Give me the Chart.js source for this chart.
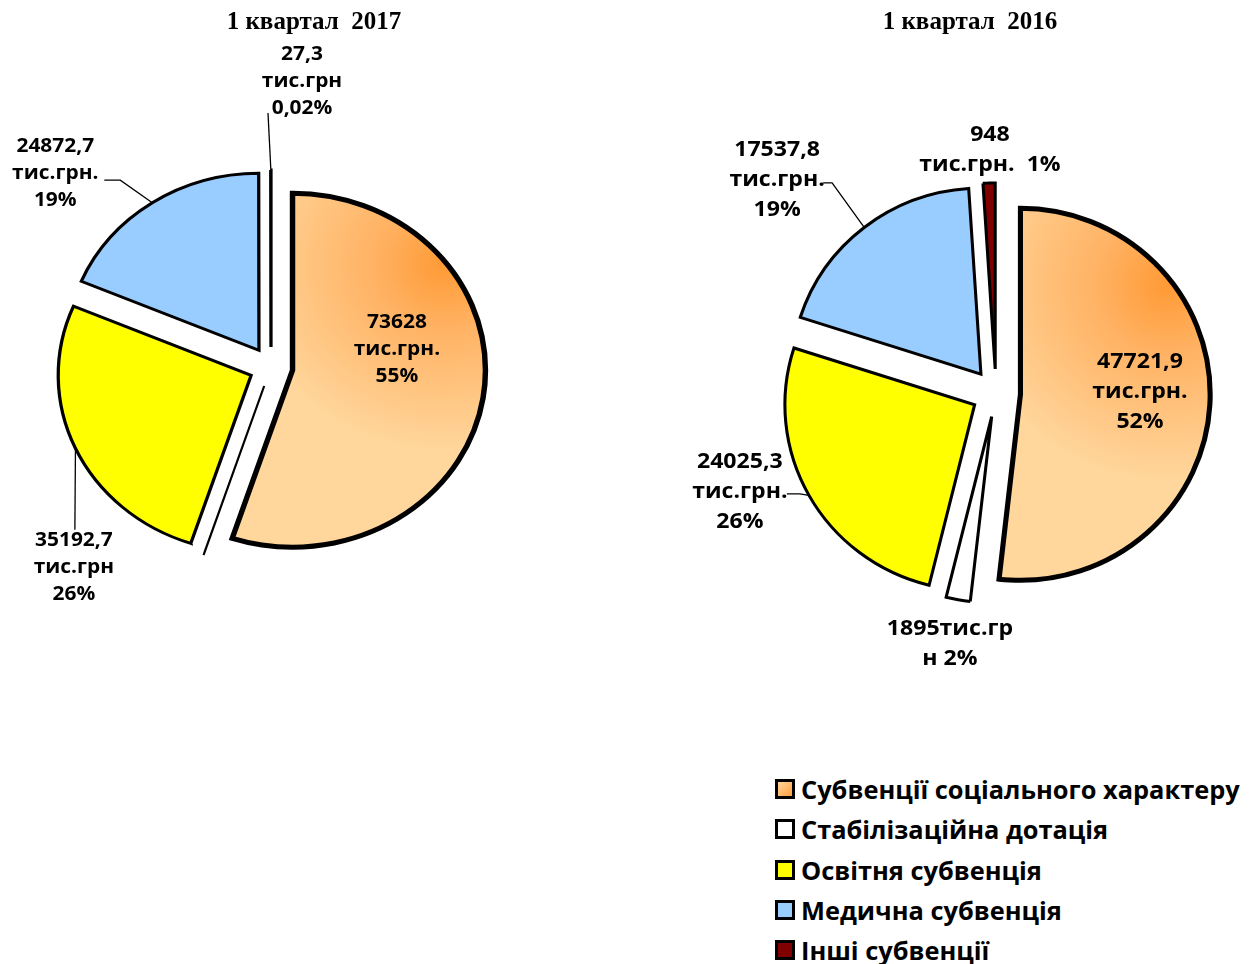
<!DOCTYPE html>
<html lang="uk">
<head>
<meta charset="utf-8">
<script src="https://cdn.jsdelivr.net/npm/chart.js@4.4.1/dist/chart.umd.min.js"></script>
<style>
  html, body { margin: 0; padding: 0; background: #fff; }
  #page { position: relative; width: 1256px; height: 964px; overflow: hidden; }
  #pie2017 { position: absolute; left: 0; top: 0; }
  #pie2016 { position: absolute; left: 684px; top: 0; }
  #legend { position: absolute; left: 775px; top: 769px; font-family: "Open Sans"; font-weight: bold; font-size: 25.4px; color: #000; }
  .item { display: flex; align-items: center; height: 40.3px; white-space: nowrap; }
  .box { width: 14px; height: 14px; border: 3px solid #000; margin-right: 6px; flex: none; }
</style>
</head>
<body>
<div id="page">
  <canvas id="pie2017" width="628" height="720"></canvas>
  <canvas id="pie2016" width="572" height="720"></canvas>
  <div id="legend"></div>
</div>
<script>
document.addEventListener("DOMContentLoaded", () => {
  // data
  const categories = [
    "Субвенції соціального характеру",
    "Стабілізаційна дотація",
    "Освітня субвенція",
    "Медична субвенція",
    "Інші субвенції",
  ];
  const values2017 = [73628, 1, 35192.7, 24872.7, 27.3]; // stabilization is ~0 in 2017, drawn as a line
  const values2016 = [47721.9, 1895, 24025.3, 17537.8, 948];
  const titles = ["1 квартал  2017", "1 квартал  2016"];
  // label text per slice: {v} value, {p} percent
  const labelText2017 = ["{v}\nтис.грн.\n{p}", "", "{v}\nтис.грн\n{p}", "{v}\nтис.грн.\n{p}", "{v}\nтис.грн\n{p}"];
  const labelText2016 = ["{v}\nтис.грн.\n{p}", "{v}тис.гр\nн {p}", "{v}\nтис.грн.\n{p}", "{v}\nтис.грн.\n{p}", "{v}\nтис.грн.  {p}"];
  const pctDigits2017 = [0, 0, 0, 0, 2];
  const pctDigits2016 = [0, 0, 0, 0, 0];

  const COLORS = ["#FFC483", "#FFFFFF", "#FFFF00", "#99CCFF", "#800000"];

  // explode every slice from the centre and stretch the pie into an ellipse like the original
  const explode = {
    id: "explode",
    beforeDatasetsDraw(chart, args, o) {
      const a = chart.chartArea;
      const cx = (a.left + a.right) / 2, cy = (a.top + a.bottom) / 2;
      chart.getDatasetMeta(0).data.forEach((arc) => {
        const mid = (arc.startAngle + arc.endAngle) / 2;
        arc.x = cx + Math.cos(mid) * o.distance;
        arc.y = cy + Math.sin(mid) * o.distance;
      });
      const ctx = chart.ctx;
      ctx.save();
      ctx.translate(cx, cy);
      ctx.scale(o.stretch, 1);
      ctx.translate(-cx, -cy);
    },
    afterDatasetsDraw(chart) {
      chart.ctx.restore();
    },
  };

  const fmt = (v) => String(v).replace(".", ",");

  // titles, value labels and leader lines
  const sliceLabels = {
    id: "sliceLabels",
    afterDraw(chart, args, o) {
      const ctx = chart.ctx, a = chart.chartArea;
      const cx = (a.left + a.right) / 2, cy = (a.top + a.bottom) / 2;
      const sx = chart.options.plugins.explode.stretch;
      const r = chart.options.radius;
      const data = chart.data.datasets[0].data;
      const total = data.reduce((s, v) => s + v, 0);
      ctx.save();
      ctx.fillStyle = "#000";
      ctx.textAlign = "center";
      ctx.textBaseline = "middle";
      ctx.font = 'bold 25px "Liberation Serif"';
      ctx.fillText(o.title, chart.width / 2, 23);

      ctx.strokeStyle = "#000";
      ctx.lineWidth = 1.3;
      ctx.font = "bold " + o.fontSize + 'px "Open Sans"';
      chart.getDatasetMeta(0).data.forEach((arc, i) => {
        const spec = o.place[i];
        if (!spec || !o.text[i]) return;
        const th = (spec[0] * Math.PI) / 180;
        const lx = cx + sx * spec[1] * r * Math.sin(th);
        const ly = cy - spec[1] * r * Math.cos(th);
        const pct = ((data[i] / total) * 100).toFixed(o.digits[i]).replace(".", ",") + "%";
        const lines = o.text[i].replace("{v}", fmt(data[i])).replace("{p}", pct).split("\n");
        if (spec[2]) {
          const mid = (arc.startAngle + arc.endAngle) / 2;
          const ex = cx + sx * (arc.x + Math.cos(mid) * r - cx);
          const ey = arc.y + Math.sin(mid) * r;
          ctx.beginPath();
          ctx.moveTo(ex, ey);
          spec[2].forEach((p) => ctx.lineTo(lx + p[0], ly + p[1]));
          ctx.stroke();
        }
        ctx.save();
        ctx.translate(lx, ly);
        ctx.scale(o.textStretch, 1);
        lines.forEach((t, j) => ctx.fillText(t, 0, (j - (lines.length - 1) / 2) * o.lineHeight));
        ctx.restore();
      });
      ctx.restore();
    },
  };

  function buildPie(id, values, cfg) {
    return new Chart(document.getElementById(id), {
      type: "pie",
      data: {
        labels: categories,
        datasets: [
          {
            data: values,
            backgroundColor: (c) => {
              if (c.dataIndex !== 0) return COLORS[c.dataIndex];
              const a = c.chart.chartArea;
              if (!a) return COLORS[0];
              const gx = (a.left + a.right) / 2 + 0.9 * cfg.radius;
              const gy = (a.top + a.bottom) / 2 - 0.58 * cfg.radius;
              const g = c.chart.ctx.createRadialGradient(gx, gy, 0, gx, gy, 1.05 * cfg.radius);
              g.addColorStop(0, "#FF9A35");
              g.addColorStop(0.35, "#FFB263");
              g.addColorStop(1, "#FFD69C");
              return g;
            },
            borderColor: "#000",
            borderWidth: cfg.borderWidths,
            borderJoinStyle: "miter",
            clip: false,
          },
        ],
      },
      options: {
        responsive: false,
        animation: false,
        events: [],
        radius: cfg.radius,
        layout: { padding: cfg.padding },
        plugins: {
          legend: { display: false },
          tooltip: { enabled: false },
          explode: { distance: cfg.distance, stretch: cfg.stretch },
          sliceLabels: cfg.labels,
        },
      },
      plugins: [explode, sliceLabels],
    });
  }

  buildPie("pie2017", values2017, {
    radius: 177,
    distance: 20,
    stretch: 1.09,
    padding: { left: 0, right: 86, top: 14, bottom: 0 },
    borderWidths: [5, 2, 3, 3, 3],
    labels: {
      title: titles[0],
      text: labelText2017,
      digits: pctDigits2017,
      fontSize: 19,
      textStretch: 1.1,
      lineHeight: 27,
      // [angle from top, radius factor, leader points relative to label centre]
      place: [
        [81.6, 0.66],
        null,
        [222, 1.527, [[1, -38]]],
        [314.4, 1.565, [[65, 7], [49, 7]]],
        [5.7, 1.618, [[-34, 31]]],
      ],
    },
  });

  buildPie("pie2016", values2016, {
    radius: 186,
    distance: 24,
    stretch: 1.02,
    padding: { left: 52, right: 0, top: 66, bottom: 0 },
    borderWidths: [5, 3, 3, 3, 3],
    labels: {
      title: titles[1],
      text: labelText2016,
      digits: pctDigits2016,
      fontSize: 21,
      textStretch: 1.1,
      lineHeight: 30,
      place: [
        [89.6, 0.759],
        [190.2, 1.371],
        [248.5, 1.451, [[60, 2], [47, 2]]],
        [314.8, 1.626, [[55, 3], [46, 3]]],
        [358.6, 1.307],
      ],
    },
  });

  // legend
  const legend = document.getElementById("legend");
  categories.forEach((name, i) => {
    const item = document.createElement("div");
    item.className = "item";
    const box = document.createElement("span");
    box.className = "box";
    box.style.background = i === 0 ? "linear-gradient(135deg, #FFD69C, #FF9F40)" : COLORS[i];
    const label = document.createElement("span");
    label.textContent = name;
    item.appendChild(box);
    item.appendChild(label);
    legend.appendChild(item);
  });
});
</script>
</body>
</html>
